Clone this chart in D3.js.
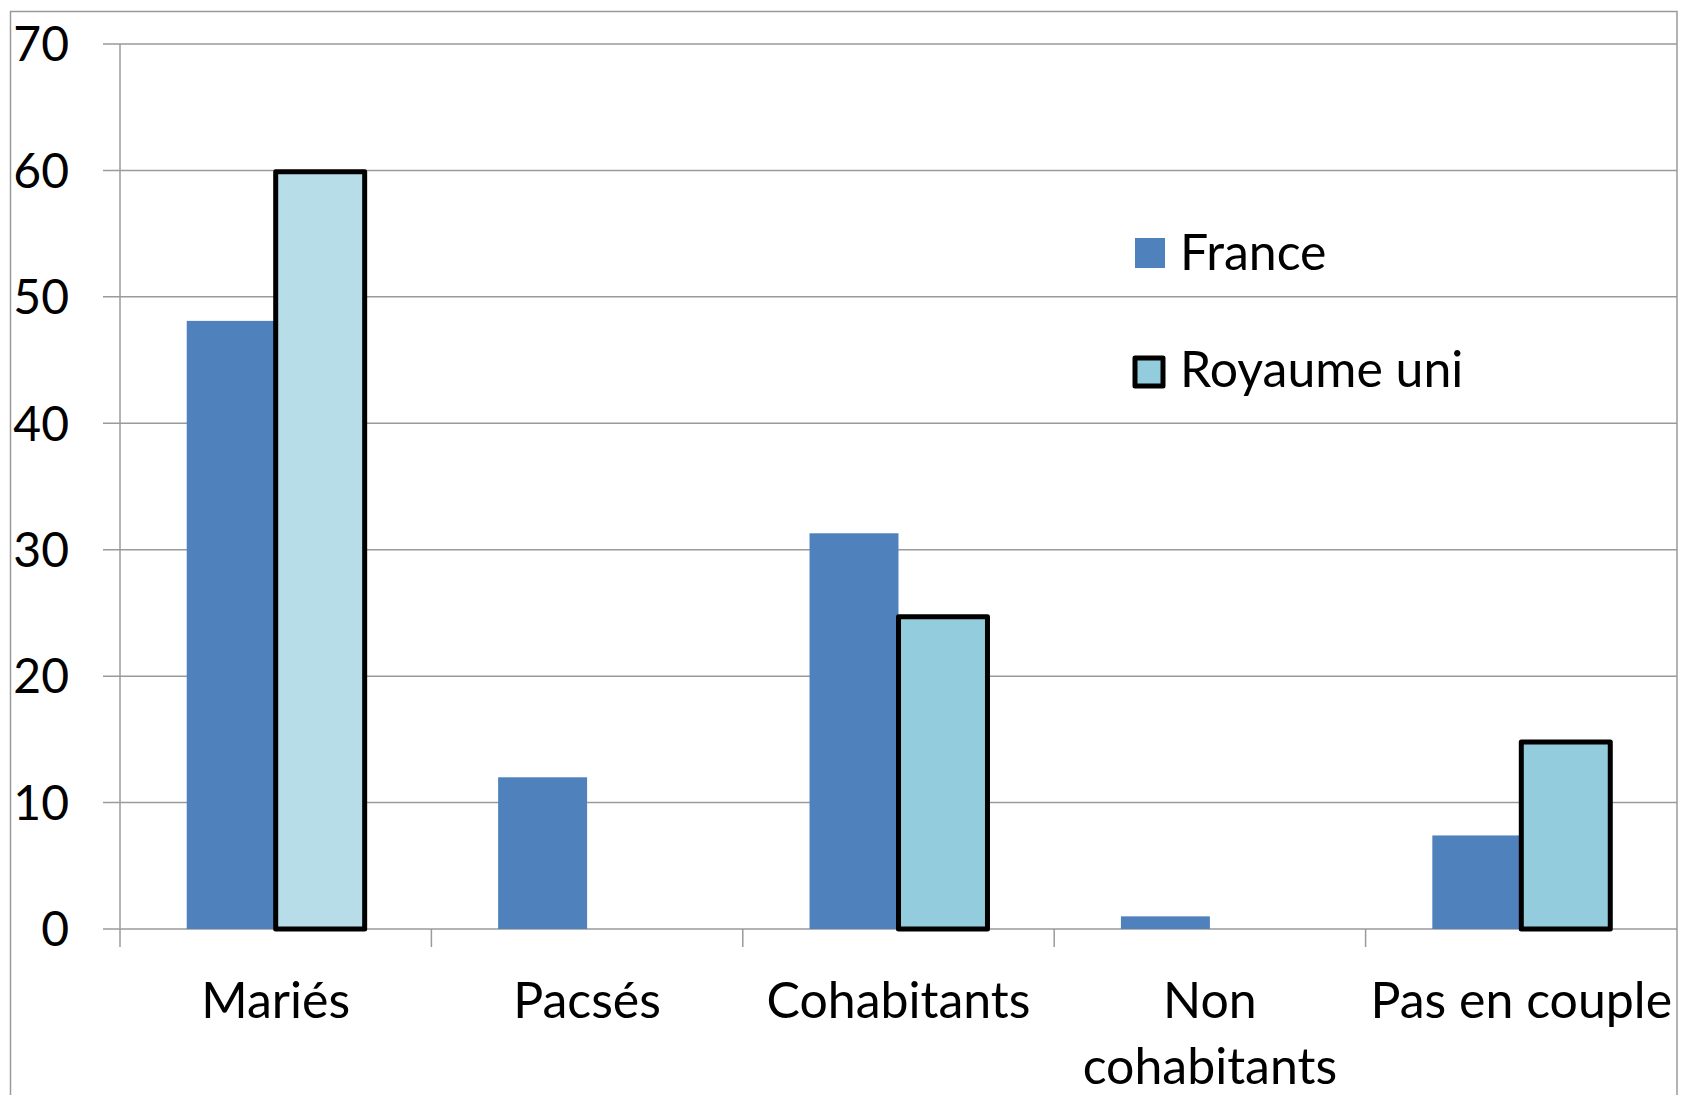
<!DOCTYPE html>
<html>
<head>
<meta charset="utf-8">
<script src="https://cdn.jsdelivr.net/npm/d3@7"></script>
<style>
  body { margin: 0; background: #fff; }
  svg { display: block; font-family: Lato, "Open Sans", sans-serif; }
</style>
</head>
<body>
<svg id="chart" width="1690" height="1095"></svg>
<script>
// DATA
const categories = ["Mariés", "Pacsés", "Cohabitants", "Non\ncohabitants", "Pas en couple"];
const seriesNames = ["France", "Royaume uni"];
const franceValues = [48.1, 12, 31.3, 1.0, 7.4];
const ukValues = [59.9, null, 24.7, null, 14.8];
const yTicks = [0, 10, 20, 30, 40, 50, 60, 70];

const width = 1690, height = 1095;
const margin = { left: 120, right: 13, top: 44, bottom: 166 };

const svg = d3.select("#chart");

// chart area border (bottom is cut off in the picture)
svg.append("path")
  .attr("d", `M10.5,${height + 5} V11.5 H1677 V${height + 5}`)
  .attr("fill", "none")
  .attr("stroke", "#9a9a9a")
  .attr("stroke-width", 1.5);

// SCALES
const x = d3.scaleBand()
  .domain(categories)
  .range([margin.left, width - margin.right])
  .padding(0);

const xInner = d3.scaleBand()
  .domain(seriesNames)
  .range([0, x.bandwidth()])
  .paddingInner(0)
  .paddingOuter(0.75);

const y = d3.scaleLinear()
  .domain([0, 70])
  .range([height - margin.bottom, margin.top]);

// GRIDLINES
svg.append("g")
  .selectAll("line")
  .data(yTicks)
  .join("line")
    .attr("x1", margin.left - 17)
    .attr("x2", width - margin.right)
    .attr("y1", d => y(d))
    .attr("y2", d => y(d))
    .attr("stroke", "#9a9a9a")
    .attr("stroke-width", 1.5);

// Y axis line
svg.append("line")
  .attr("x1", margin.left).attr("x2", margin.left)
  .attr("y1", y(70)).attr("y2", y(0) + 18)
  .attr("stroke", "#9a9a9a")
  .attr("stroke-width", 1.5);

// category ticks
const tickPos = categories.map(c => x(c)).concat([x(categories[4]) + x.bandwidth()]);
svg.append("g")
  .selectAll("line")
  .data(tickPos.slice(1, 5))
  .join("line")
    .attr("x1", d => d).attr("x2", d => d)
    .attr("y1", y(0)).attr("y2", y(0) + 18)
    .attr("stroke", "#9a9a9a")
    .attr("stroke-width", 1.5);

// Y labels
svg.append("g")
  .selectAll("text")
  .data(yTicks)
  .join("text")
    .attr("x", 69)
    .attr("y", d => y(d))
    .attr("dy", "0.36em")
    .attr("text-anchor", "end")
    .attr("font-size", 48)
    .attr("fill", "#000")
    .text(d => d);

// X labels
svg.append("g")
  .selectAll("text")
  .data(categories)
  .join("text")
    .attr("text-anchor", "middle")
    .attr("font-size", 50)
    .attr("fill", "#000")
    .each(function(d) {
      const lines = d.split("\n");
      d3.select(this).selectAll("tspan")
        .data(lines)
        .join("tspan")
          .attr("x", x(d) + x.bandwidth() / 2)
          .attr("y", (l, i) => 1018 + i * 66)
          .text(l => l);
    });

// BARS
const franceColor = "#4f81bd";
const ukColors = ["#b7dde8", null, "#93cddd", null, "#93cddd"];

svg.append("g")
  .selectAll("rect")
  .data(categories.map((c, i) => ({ cat: c, v: franceValues[i] })))
  .join("rect")
    .attr("x", d => x(d.cat) + xInner("France"))
    .attr("width", xInner.bandwidth())
    .attr("y", d => y(d.v))
    .attr("height", d => y(0) - y(d.v))
    .attr("fill", franceColor);

svg.append("g")
  .selectAll("rect")
  .data(categories.map((c, i) => ({ cat: c, v: ukValues[i], color: ukColors[i] }))
    .filter(d => d.v !== null))
  .join("rect")
    .attr("x", d => x(d.cat) + xInner("Royaume uni"))
    .attr("width", xInner.bandwidth())
    .attr("y", d => y(d.v))
    .attr("height", d => y(0) - y(d.v))
    .attr("fill", d => d.color)
    .attr("stroke", "#000")
    .attr("stroke-width", 5)
    .attr("stroke-linejoin", "round");

// LEGEND
const legend = svg.append("g");
legend.append("rect")
  .attr("x", 1135).attr("y", 238)
  .attr("width", 30).attr("height", 30)
  .attr("fill", franceColor);
legend.append("text")
  .attr("x", 1180).attr("y", 270)
  .attr("font-size", 50)
  .text(seriesNames[0]);
legend.append("rect")
  .attr("x", 1135).attr("y", 358)
  .attr("width", 28).attr("height", 28)
  .attr("fill", "#93cddd")
  .attr("stroke", "#000")
  .attr("stroke-width", 5)
  .attr("stroke-linejoin", "round");
legend.append("text")
  .attr("x", 1180).attr("y", 387)
  .attr("font-size", 50)
  .text(seriesNames[1]);
</script>
</body>
</html>
